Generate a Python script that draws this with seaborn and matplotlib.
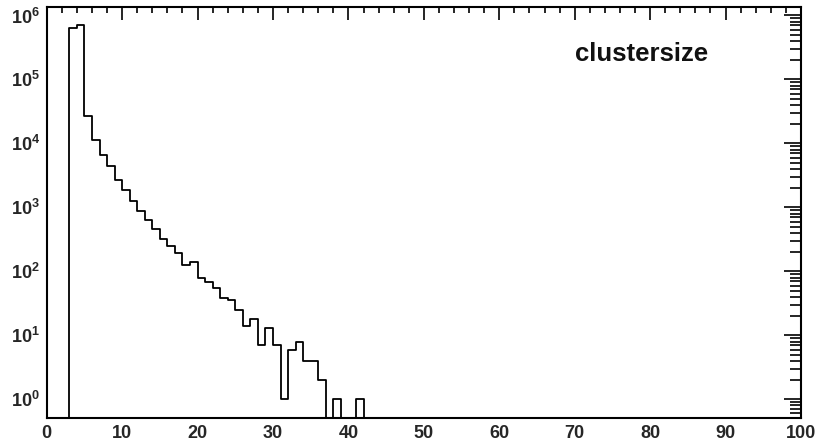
import numpy as np
import pandas as pd
import matplotlib
matplotlib.use("Agg")
import matplotlib.pyplot as plt
import matplotlib.ticker as mticker
import seaborn as sns

# ---- data ----
cluster_size = list(range(3, 42))
counts = [640000, 710000, 26500, 11400, 6650, 4370, 2670, 1880, 1270, 890,
          630, 457, 323, 251, 197, 127, 139, 78, 68, 54,
          38, 36, 25, 14, 18, 7, 13, 7, 1, 6,
          8, 4, 4, 2, 0, 1, 0, 0, 1]
bin_edges = list(range(0, 101))
x_ticks = [0, 10, 20, 30, 40, 50, 60, 70, 80, 90, 100]
title = "clustersize"

sns.set_theme(style="white")
plt.rcParams['font.family'] = ['Liberation Sans', 'DejaVu Sans']
plt.rcParams['font.weight'] = 'bold'
plt.rcParams['mathtext.fontset'] = 'custom'
plt.rcParams['mathtext.bf'] = 'Liberation Sans:bold'
plt.rcParams['mathtext.rm'] = 'Liberation Sans:bold'
plt.rcParams['mathtext.it'] = 'Liberation Sans:bold'

df = pd.DataFrame({"size": [c + 0.5 for c in cluster_size], "n": counts})

fig = plt.figure(figsize=(8.17, 4.46), dpi=100)
ax = fig.add_axes([46.7 / 817, 1 - 418 / 446, (801 - 46.7) / 817, (418 - 6.5) / 446])

sns.histplot(data=df, x="size", weights="n", bins=bin_edges, element="step",
             fill=False, color="black", linewidth=1.3, ax=ax)
ax.set_yscale("log")
ax.set_xlim(0, 100)
ax.set_ylim(0.51, 10 ** 6.14)

ax.set_xlabel("")
ax.set_ylabel("")

ax.xaxis.set_major_locator(mticker.FixedLocator(x_ticks))
ax.xaxis.set_minor_locator(mticker.MultipleLocator(2))
ax.yaxis.set_major_locator(mticker.LogLocator(base=10, numticks=20))
ax.yaxis.set_minor_locator(mticker.LogLocator(base=10, subs=np.arange(2, 10), numticks=20))
ax.yaxis.set_minor_formatter(mticker.NullFormatter())
ax.yaxis.set_major_formatter(mticker.FuncFormatter(
    lambda v, p: r"$\mathbf{10^{%d}}$" % int(round(np.log10(v)))))
ax.xaxis.set_major_formatter(mticker.FuncFormatter(lambda v, p: "%d" % v))

for s in ax.spines.values():
    s.set_linewidth(1.5)
    s.set_color("black")

ax.tick_params(axis="both", which="both", direction="in", top=True, right=True,
               color="black", width=1.2)
ax.tick_params(axis="x", which="major", length=9, pad=5, labelsize=13)
ax.tick_params(axis="x", which="minor", length=4.5)
ax.tick_params(axis="y", which="major", length=12, pad=5, labelsize=13)
ax.tick_params(axis="y", which="minor", length=8)
for lab in ax.get_xticklabels():
    lab.set_fontweight("bold")

ax.text(0.788, 0.8686, title, transform=ax.transAxes, ha="center",
        va="baseline", fontsize=18.5, fontweight="bold", color="#111111")

fig.savefig("out.png", dpi=100)
